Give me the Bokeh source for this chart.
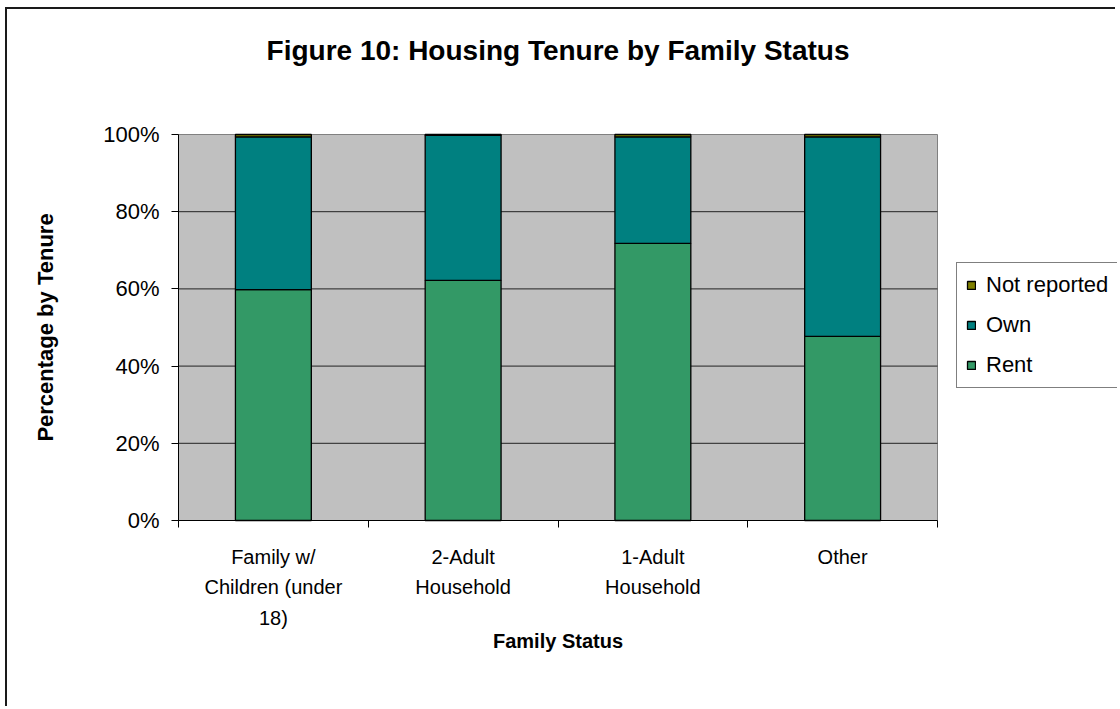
import math
from bokeh.plotting import figure
from bokeh.models import (Range1d, FixedTicker, Legend, LegendItem, Label,
                          ColumnDataSource)
from bokeh.embed import file_html
from bokeh.resources import INLINE

# ---------------- data ----------------
categories = ["Family w/\nChildren (under\n18)", "2-Adult\nHousehold",
              "1-Adult\nHousehold", "Other"]
series = ["Rent", "Own", "Not reported"]
rent = [0.598, 0.622, 0.718, 0.477]
own = [0.396, 0.376, 0.276, 0.517]
not_reported = [0.006, 0.002, 0.006, 0.006]
y_ticks = [0.0, 0.2, 0.4, 0.6, 0.8, 1.0]
y_tick_labels = ["0%", "20%", "40%", "60%", "80%", "100%"]
colors = ["#339966", "#008080", "#808000"]

FONT = "Liberation Sans"

n = len(categories)
xpos = [i + 0.5 for i in range(n)]
source = ColumnDataSource(dict(x=xpos, Rent=rent, Own=own,
                               **{"Not reported": not_reported}))

# ---------------- layout (pixels inside the canvas) ----------------
W, H = 1110, 699                 # canvas
PA_L, PA_R, PA_T, PA_B = 171, 930, 125, 511   # plot area
PX_X = (PA_R - PA_L) / n         # px per category
PX_Y = (PA_B - PA_T) / 1.0       # px per 100 %
x_start = -PA_L / PX_X
x_end = n + (W - PA_R) / PX_X
y_start = -(H - PA_B) / PX_Y
y_end = 1.0 + PA_T / PX_Y

p = figure(width=W, height=H, output_backend="svg", toolbar_location=None,
           x_range=Range1d(x_start, x_end), y_range=Range1d(y_start, y_end),
           min_border=0, min_border_left=0, min_border_right=0,
           min_border_top=0, min_border_bottom=0)
p.styles = {"margin-left": "5px", "margin-top": "7px",
            "border-left": "2px solid #1a1a1a", "border-top": "2px solid #1a1a1a"}
p.background_fill_color = "white"
p.border_fill_color = "white"
p.outline_line_color = None

# plot-area background and border
p.quad(left=[0], right=[n], bottom=[y_ticks[0]], top=[y_ticks[-1]],
       fill_color="#C0C0C0", line_color="#808080", line_width=1, level="image")
# horizontal gridlines
p.segment(x0=[0] * (len(y_ticks) - 2), x1=[n] * (len(y_ticks) - 2),
          y0=y_ticks[1:-1], y1=y_ticks[1:-1], line_color="#222222",
          line_width=1, level="underlay")

renderers = p.vbar_stack(series, x="x", width=0.4, color=colors,
                         line_color="black", line_width=1.3, source=source)

# titles
p.add_layout(Label(x=n / 2, y=1 + 84 / PX_Y,
                   text="Figure 10: Housing Tenure by Family Status",
                   text_font=FONT, text_font_size="28px", text_font_style="bold",
                   text_color="black", text_align="center", text_baseline="middle"))
p.add_layout(Label(x=n / 2, y=-120 / PX_Y, text="Family Status",
                   text_font=FONT, text_font_size="20px", text_font_style="bold",
                   text_color="black", text_align="center", text_baseline="middle"))
p.add_layout(Label(x=-133 / PX_X, y=0.5, text="Percentage by Tenure",
                   angle=math.pi / 2,
                   text_font=FONT, text_font_size="22px", text_font_style="bold",
                   text_color="black", text_align="center", text_baseline="middle"))

# y axis
p.yaxis.fixed_location = 0
p.yaxis.bounds = (y_ticks[0], y_ticks[-1])
p.yaxis.ticker = FixedTicker(ticks=y_ticks)
p.yaxis.major_label_overrides = {t: l for t, l in zip(y_ticks, y_tick_labels)}
p.yaxis.major_label_text_font = FONT
p.yaxis.major_label_text_font_size = "22px"
p.yaxis.major_label_text_color = "black"
p.yaxis.major_label_standoff = 12
p.yaxis.major_tick_out = 7
p.yaxis.major_tick_in = 0
p.yaxis.minor_tick_line_color = None
p.yaxis.axis_line_color = "black"
p.yaxis.major_tick_line_color = "black"

# x axis: category labels at centres, tick marks at category boundaries
p.xaxis.fixed_location = 0
p.xaxis.bounds = (0, n)
p.xaxis.ticker = FixedTicker(ticks=xpos, minor_ticks=list(range(n + 1)))
p.xaxis.major_label_overrides = {x: c for x, c in zip(xpos, categories)}
p.xaxis.major_label_text_font = FONT
p.xaxis.major_label_text_font_size = "20px"
p.xaxis.major_label_text_color = "black"
p.xaxis.major_label_text_line_height = 1.4
p.xaxis.major_label_standoff = 18
p.xaxis.major_tick_out = 7
p.xaxis.major_tick_in = 0
p.xaxis.major_tick_line_color = None
p.xaxis.minor_tick_out = 7
p.xaxis.minor_tick_in = 0
p.xaxis.minor_tick_line_color = "black"
p.xaxis.axis_line_color = "black"

p.xgrid.visible = False
p.ygrid.visible = False

# legend (box runs off the right edge, as in the original)
items = [LegendItem(label=s, renderers=[r]) for s, r in zip(series, renderers)][::-1]
legend = Legend(items=items, location=(949, 320), orientation="vertical",
                label_text_font=FONT, label_text_font_size="22px",
                label_text_color="black",
                glyph_width=10, glyph_height=10, label_height=20,
                spacing=14, padding=9, margin=0, label_standoff=10,
                label_width=150,
                border_line_color="black", border_line_width=1,
                background_fill_color="white", background_fill_alpha=1)
p.add_layout(legend, "center")

open("out.html", "w").write(file_html(p, INLINE))
